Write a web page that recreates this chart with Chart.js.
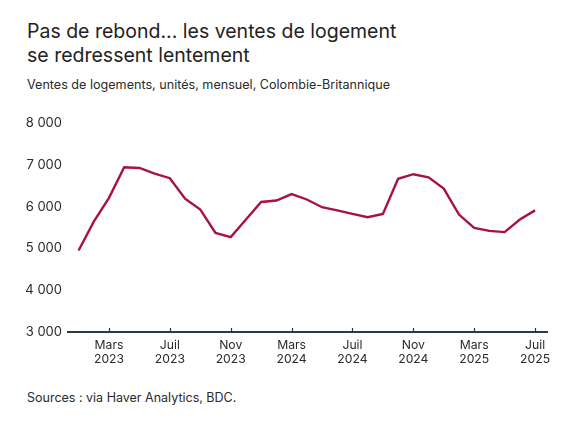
<!DOCTYPE html>
<html>
<head>
<meta charset="utf-8">
<script src="https://cdn.jsdelivr.net/npm/chart.js@4.4.1/dist/chart.umd.min.js"></script>
<style>
  html, body { margin: 0; padding: 0; background: #fff; }
  body { width: 575px; height: 431px; position: relative; overflow: hidden; font-family: Inter, sans-serif; color: #2a2a2a; }
  #title { position: absolute; left: 27px; top: 20px; font-size: 19.5px; line-height: 23.5px; color: #222; }
  #subtitle { position: absolute; left: 27px; top: 77px; font-size: 12.6px; }
  #source { position: absolute; left: 27px; top: 390px; font-size: 12.5px; }
  #wrap { position: absolute; left: 0; top: 0; width: 575px; height: 431px; }
</style>
</head>
<body>
<div id="title">Pas de rebond... les ventes de logement<br>se redressent lentement</div>
<div id="subtitle">Ventes de logements, unités, mensuel, Colombie-Britannique</div>
<div id="source">Sources : via Haver Analytics, BDC.</div>
<div id="wrap"><canvas id="chart"></canvas></div>
<script>
// Monthly, Jan 2023 .. Jul 2025
const months = ["Janv", "Févr", "Mars", "Avr", "Mai", "Juin", "Juil", "Août", "Sept", "Oct", "Nov", "Déc"];
const startYear = 2023;
const sales = [
  4950, 5640, 6210, 6940, 6925, 6790, 6680, 6190, 5930, 5370, 5270, 5690,
  6110, 6145, 6300, 6170, 5985, 5910, 5825, 5745, 5825, 6665, 6775, 6700,
  6430, 5810, 5490, 5420, 5390, 5690, 5910
];
const yTicks = [3000, 4000, 5000, 6000, 7000, 8000];
const xTickIdx = [2, 6, 10, 14, 18, 22, 26, 30];

const points = sales.map((v, i) => ({ x: i, y: v }));

function monthLabel(i) {
  return [months[i % 12], String(startYear + Math.floor(i / 12))];
}

// small upward tick marks + axis line
const axisDeco = {
  id: "axisDeco",
  afterDraw(chart) {
    const { ctx, chartArea } = chart;
    const xs = chart.scales.x;
    ctx.save();
    ctx.strokeStyle = "#2c3a44";
    ctx.lineWidth = 1.2;
    xTickIdx.forEach(i => {
      const px = Math.round(xs.getPixelForValue(i)) + 0.5;
      ctx.beginPath();
      ctx.moveTo(px, chartArea.bottom - 4);
      ctx.lineTo(px, chartArea.bottom);
      ctx.stroke();
    });
    ctx.lineWidth = 2;
    ctx.beginPath();
    ctx.moveTo(chartArea.left, chartArea.bottom);
    ctx.lineTo(chartArea.right, chartArea.bottom);
    ctx.stroke();
    ctx.restore();
  }
};

new Chart(document.getElementById("chart"), {
  type: "line",
  data: {
    datasets: [{
      data: points,
      borderColor: "#a8123c",
      borderWidth: 2.4,
      pointRadius: 0,
      tension: 0,
      clip: false
    }]
  },
  options: {
    responsive: true,
    maintainAspectRatio: false,
    animation: false,
    layout: { padding: { top: 123, bottom: 59, left: 0, right: 27 } },
    plugins: { legend: { display: false }, tooltip: { enabled: false } },
    scales: {
      x: {
        type: "linear",
        min: -0.76,
        max: 30.85,
        afterBuildTicks: s => { s.ticks = xTickIdx.map(v => ({ value: v })); },
        afterFit: s => { s.height = 40; },
        grid: { display: false, drawTicks: false },
        border: { display: false },
        ticks: {
          callback: v => monthLabel(v),
          color: "#2a2a2a",
          font: { family: "Inter", size: 12.2, lineHeight: 1.17 },
          padding: 6,
          maxRotation: 0,
          autoSkip: false
        }
      },
      y: {
        min: 3000,
        max: 8000,
        afterBuildTicks: s => { s.ticks = yTicks.map(v => ({ value: v })); },
        afterFit: s => { s.width = 67; },
        grid: { display: false, drawTicks: false },
        border: { display: false },
        ticks: {
          callback: v => v.toLocaleString("fr-FR").replace(/\s/g, " "),
          color: "#2a2a2a",
          font: { family: "Inter", size: 13 },
          padding: 5
        }
      }
    }
  },
  plugins: [axisDeco]
});
</script>
</body>
</html>
